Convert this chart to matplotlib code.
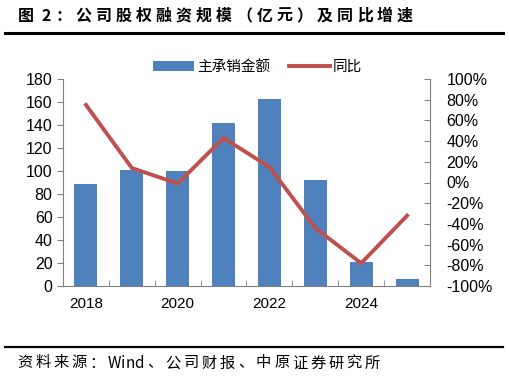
"""公司股权融资规模（亿元）及同比增速 - bar + line dual-axis chart."""
import matplotlib

matplotlib.use("Agg")
import matplotlib.pyplot as plt
from matplotlib.lines import Line2D
from matplotlib.patches import Patch
from matplotlib.ticker import FuncFormatter

plt.rcParams["font.family"] = ["Liberation Sans", "Noto Sans CJK SC", "DejaVu Sans"]

YEARS = [2018, 2019, 2020, 2021, 2022, 2023, 2024, 2025]
TICK_LABELS = ["2018", "", "2020", "", "2022", "", "2024", ""]
AMOUNT = [89, 101, 100, 142, 163, 92, 21, 6]
YOY = [0.75, 0.14, -0.01, 0.43, 0.15, -0.44, -0.78, -0.32]
TITLE = "图 2：公司股权融资规模（亿元）及同比增速"
SOURCE = "资料来源：Wind、公司财报、中原证券研究所"

BAR_COLOR = "#4F81BD"
LINE_COLOR = "#C0504D"
SPINE_COLOR = "#808080"
CJK = ["Noto Sans CJK SC", "DejaVu Sans"]
W, H = 510, 378


def spaced_text(fig, text, x0, x1, y, **kw):
    """Lay out text char by char so it spans x0..x1 pixels.

    Extra spacing goes only next to CJK characters; Latin runs stay tight.
    """
    renderer = fig.canvas.get_renderer()
    artists = [fig.text(0, 1 - y / H, ch, va="center", ha="left", **kw) for ch in text]
    widths = [a.get_window_extent(renderer).width for a in artists]
    spaced = [not (text[i].isascii() and text[i + 1].isascii()) for i in range(len(text) - 1)]
    gap = (x1 - x0 - sum(widths)) / sum(spaced)
    x = x0
    for i, (a, w) in enumerate(zip(artists, widths)):
        a.set_x(x / W)
        x += w + (gap if i < len(spaced) and spaced[i] else 0)


fig = plt.figure(figsize=(W / 100, H / 100), dpi=100)

# title, rules and source note
spaced_text(fig, TITLE, 18, 413, 16, family=CJK, fontsize=11.5, fontweight="bold")
fig.add_artist(Line2D([5 / W, 503 / W], [1 - 33 / H] * 2, color="black", lw=2.2))
fig.add_artist(Line2D([5 / W, 503 / W], [1 - 347 / H] * 2, color="black", lw=1.6))
spaced_text(fig, SOURCE, 17, 380, 363, family=CJK, fontsize=11)

ax = fig.add_axes([63 / W, 1 - 286 / H, (430 - 63) / W, (286 - 79) / H])
x = list(range(len(YEARS)))
ax.bar(x, AMOUNT, width=0.5, color=BAR_COLOR, zorder=2)
ax.set_xlim(-0.5, len(YEARS) - 0.5)
ax.set_ylim(0, 180)
ax.set_yticks(range(0, 181, 20))
ax.set_xticks(x)
ax.set_xticklabels(TICK_LABELS, fontsize=11)
ax.tick_params(axis="x", length=0, pad=8)
ax.set_xticks([i + 0.5 for i in range(-1, len(YEARS))], minor=True)
ax.tick_params(axis="x", which="minor", direction="in", length=4, color=SPINE_COLOR)
ax.tick_params(axis="y", direction="out", length=4, color=SPINE_COLOR, labelsize=11.5)
for side in ("top", "right"):
    ax.spines[side].set_visible(False)
for side in ("left", "bottom"):
    ax.spines[side].set_color(SPINE_COLOR)

ax2 = ax.twinx()
ax2.plot(x, YOY, color=LINE_COLOR, lw=2.8, zorder=3)
ax2.set_ylim(-1, 1)
ax2.set_yticks([i / 10 for i in range(-10, 11, 2)])
ax2.yaxis.set_major_formatter(FuncFormatter(lambda v, _: f"{v * 100:.0f}%"))
ax2.tick_params(axis="y", direction="in", length=4, color=SPINE_COLOR, labelsize=11.5, pad=12)
for side in ("top", "left", "bottom"):
    ax2.spines[side].set_visible(False)
ax2.spines["right"].set_color(SPINE_COLOR)

handles = [Patch(facecolor=BAR_COLOR, edgecolor="none"),
           Line2D([], [], color=LINE_COLOR, lw=2.8)]
fig.legend(handles, ["主承销金额", "同比"], loc="center", bbox_to_anchor=(0.505, 1 - 67 / H),
           ncol=2, frameon=False, prop={"family": CJK, "size": 10.5},
           handlelength=2.8, handleheight=0.7, handletextpad=0.2, columnspacing=1.3)

fig.savefig("out.png", dpi=100)
